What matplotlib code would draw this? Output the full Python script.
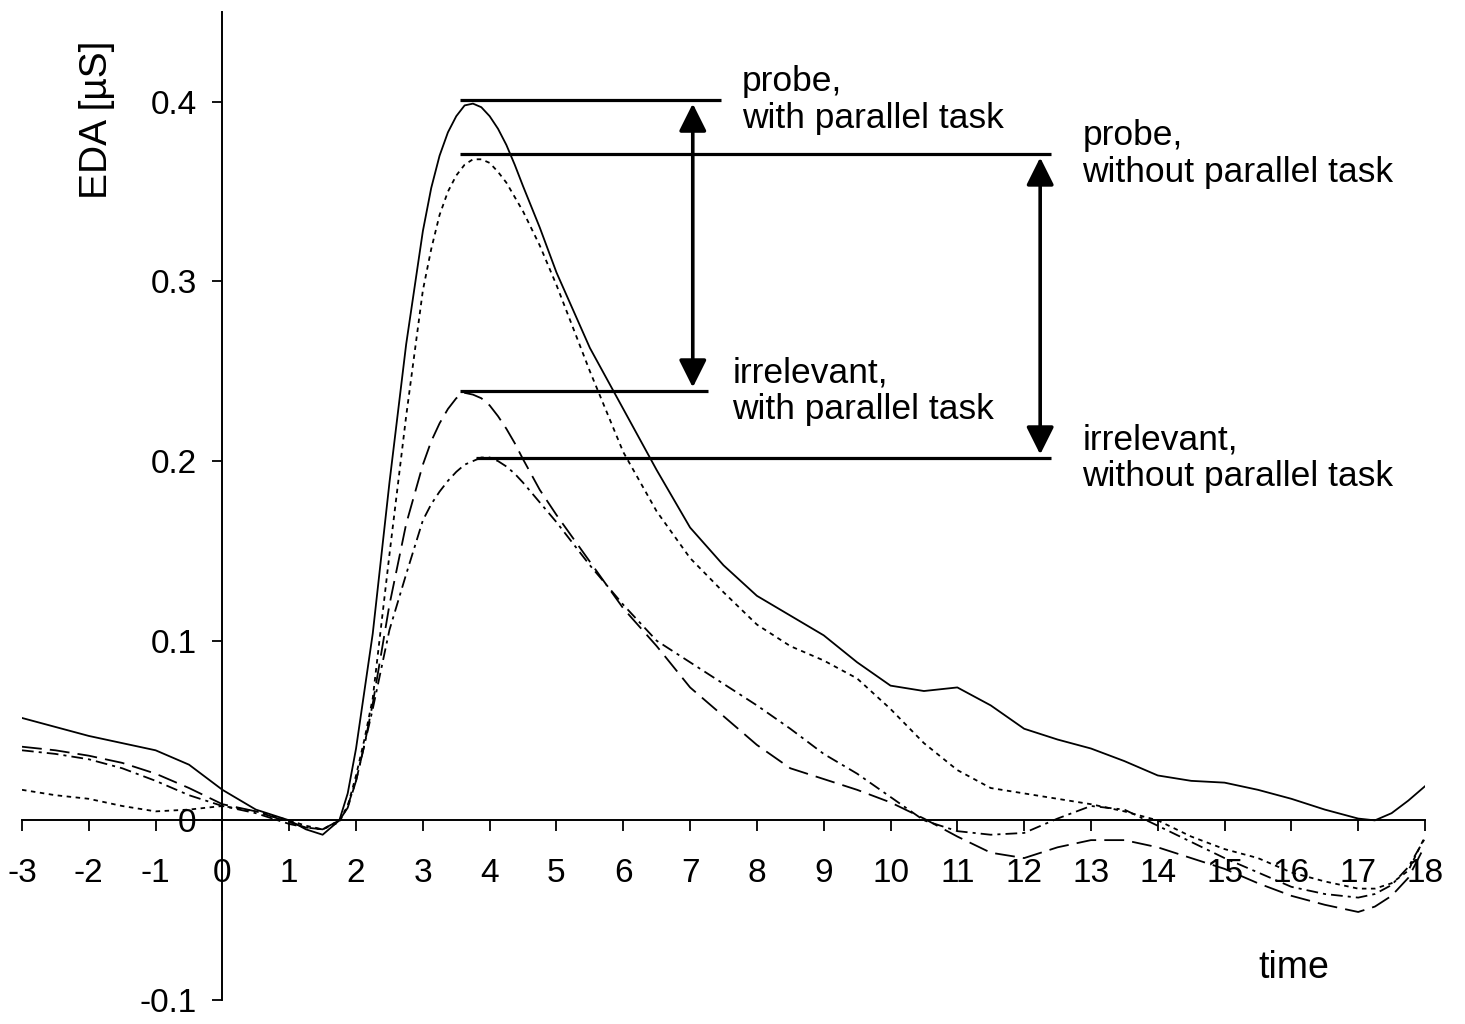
import numpy as np
import matplotlib
matplotlib.use("Agg")
import matplotlib.pyplot as plt

plt.rcParams['font.family'] = ['Liberation Sans', 'DejaVu Sans']
plt.rcParams['axes.unicode_minus'] = False

# time grid (s)
t = [-3, -2.5, -2, -1.5, -1, -0.5, 0, 0.5, 1, 1.25, 1.5, 1.75, 1.875,
     2, 2.125, 2.25, 2.5, 2.75, 3, 3.125, 3.25, 3.375, 3.5, 3.625, 3.75, 3.875,
     4, 4.125, 4.25, 4.375, 4.5, 4.75, 5,
     5.5, 6, 6.5, 7, 7.5, 8, 8.5, 9, 9.5, 10, 10.5, 11, 11.5, 12,
     12.5, 13, 13.5, 14, 14.5, 15, 15.5, 16, 16.5, 17, 17.25, 17.5, 17.75, 18]

# probe, with parallel task (solid)
probe_with = [0.057, 0.052, 0.047, 0.043, 0.039, 0.031, 0.017, 0.006, 0.0, -0.005, -0.008, 0.0, 0.015,
              0.040, 0.072, 0.104, 0.188, 0.265, 0.328, 0.352, 0.370, 0.383, 0.392, 0.398, 0.399, 0.397,
              0.392, 0.385, 0.376, 0.365, 0.353, 0.330, 0.305,
              0.263, 0.229, 0.195, 0.163, 0.142, 0.125, 0.114, 0.103, 0.088, 0.075, 0.072, 0.074, 0.064, 0.051,
              0.045, 0.040, 0.033, 0.025, 0.022, 0.021, 0.017, 0.012, 0.006, 0.001, 0.0, 0.004, 0.011, 0.019]

# probe, without parallel task (dotted)
probe_without = [0.017, 0.014, 0.012, 0.008, 0.005, 0.006, 0.008, 0.005, 0.0, -0.003, -0.005, -0.001, 0.008,
                 0.025, 0.045, 0.068, 0.148, 0.225, 0.295, 0.318, 0.337, 0.350, 0.359, 0.365, 0.368, 0.368,
                 0.366, 0.361, 0.355, 0.347, 0.339, 0.320, 0.298,
                 0.250, 0.205, 0.172, 0.146, 0.127, 0.109, 0.097, 0.089, 0.079, 0.062, 0.043, 0.028, 0.018, 0.015,
                 0.012, 0.009, 0.005, 0.0, -0.009, -0.016, -0.021, -0.029, -0.034, -0.038, -0.038, -0.035, -0.028, -0.009]

# irrelevant, with parallel task (long dash)
irr_with = [0.041, 0.039, 0.036, 0.032, 0.026, 0.018, 0.009, 0.005, -0.001, -0.004, -0.005, 0.0, 0.007,
            0.022, 0.042, 0.065, 0.120, 0.165, 0.198, 0.211, 0.221, 0.229, 0.235, 0.238, 0.237, 0.235,
            0.231, 0.225, 0.218, 0.210, 0.201, 0.184, 0.170,
            0.144, 0.118, 0.097, 0.074, 0.058, 0.042, 0.029, 0.023, 0.017, 0.010, 0.001, -0.009, -0.018, -0.021,
            -0.015, -0.011, -0.011, -0.015, -0.021, -0.027, -0.035, -0.042, -0.047, -0.051, -0.048, -0.042, -0.032, -0.014]

# irrelevant, without parallel task (dash-dot)
irr_without = [0.039, 0.037, 0.034, 0.029, 0.022, 0.014, 0.008, 0.004, -0.002, -0.004, -0.005, 0.0, 0.008,
               0.022, 0.042, 0.062, 0.106, 0.137, 0.167, 0.176, 0.183, 0.189, 0.194, 0.198, 0.200, 0.202,
               0.202, 0.200, 0.197, 0.193, 0.188, 0.177, 0.166,
               0.142, 0.120, 0.100, 0.088, 0.076, 0.064, 0.051, 0.037, 0.026, 0.013, 0.0, -0.006, -0.008, -0.007,
               0.001, 0.008, 0.006, -0.003, -0.012, -0.021, -0.029, -0.037, -0.041, -0.043, -0.041, -0.036, -0.026, -0.010]

xticks = list(range(-3, 19))
yticks = [-0.1, 0, 0.1, 0.2, 0.3, 0.4]
ytick_labels = ['-0.1', '0', '0.1', '0.2', '0.3', '0.4']

# peak markers: level, line start, line end, label
levels = [0.401, 0.371, 0.239, 0.2017]
lvl_start = [3.55, 3.55, 3.55, 3.8]
lvl_end = [7.47, 12.4, 7.27, 12.4]
labels = ['probe,\nwith parallel task', 'probe,\nwithout parallel task',
          'irrelevant,\nwith parallel task', 'irrelevant,\nwithout parallel task']
label_x = [7.78, 12.87, 7.63, 12.87]

fig = plt.figure(figsize=(14.65, 10.24), dpi=100)
ax = fig.add_axes([22/1465, 24/1024, 1403/1465, 988/1024])

lw = 1.3
ax.plot(t, probe_with, color='black', lw=lw, ls='-')
ax.plot(t, probe_without, color='black', lw=lw, ls=(0, (2.5, 2.5)))
ax.plot(t, irr_with, color='black', lw=lw, ls=(0, (11, 4.5)))
ax.plot(t, irr_without, color='black', lw=lw, ls=(0, (6.5, 2.8, 1.7, 2.8)))

ax.hlines(levels, lvl_start, lvl_end, color='black', lw=2.3)
for lv, xl, lab in zip(levels, label_x, labels):
    ax.text(xl, lv, lab, fontsize=25.5, va='center', ha='left', linespacing=1.15)

arrow = dict(arrowstyle='<|-|>', lw=2.6, color='black', mutation_scale=42,
             shrinkA=0, shrinkB=0)
ax.annotate('', xy=(7.04, levels[0] - 0.002), xytext=(7.04, levels[2] + 0.002), arrowprops=arrow)
ax.annotate('', xy=(12.24, levels[1] - 0.002), xytext=(12.24, levels[3] + 0.002), arrowprops=arrow)

ax.set_xlim(-3, 18)
ax.set_ylim(-0.1, 0.45)
ax.spines['left'].set_position(('data', 0))
ax.spines['bottom'].set_position(('data', 0))
ax.spines['top'].set_visible(False)
ax.spines['right'].set_visible(False)
for s in ['left', 'bottom']:
    ax.spines[s].set_linewidth(1.4)

ax.set_xticks(xticks)
ax.set_xticklabels([str(v) for v in xticks])
ax.set_yticks(yticks)
ax.set_yticklabels(ytick_labels)
ax.tick_params(axis='x', direction='out', length=8, width=1.3, pad=19, labelsize=24)
ax.tick_params(axis='y', direction='out', length=7.5, width=1.3, pad=11, labelsize=24)

ax.text(-1.88, 0.39, 'EDA [µS]', rotation=90, fontsize=28, ha='center', va='center')
ax.text(16.04, -0.082, 'time', fontsize=27, ha='center', va='center')

fig.savefig('out.png', dpi=100)
